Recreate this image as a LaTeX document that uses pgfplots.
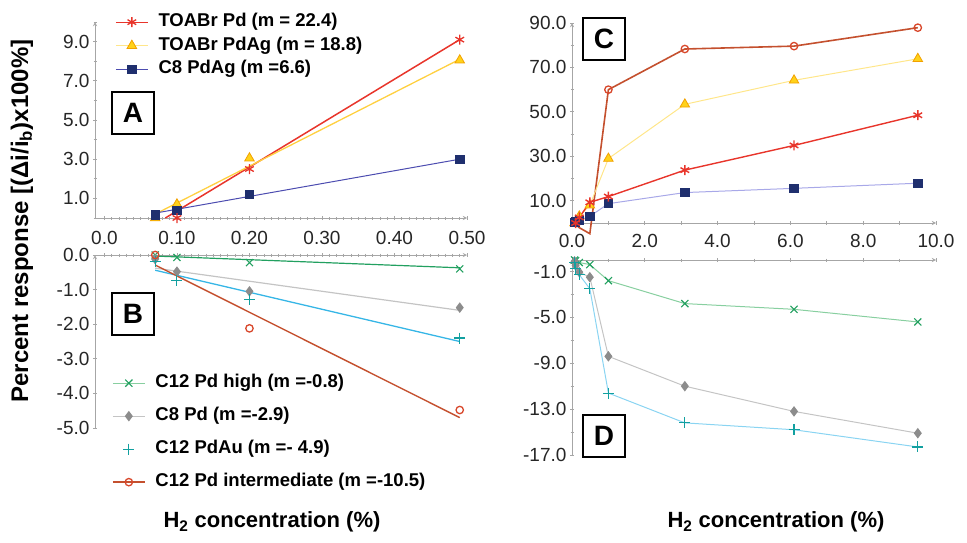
\documentclass[border=0pt]{standalone}
\usepackage{fontspec}
\setmainfont{Liberation Sans}
\usepackage{pgfplots}
\pgfplotsset{compat=1.18}
\definecolor{cred}{HTML}{E8352B}
\definecolor{cyelline}{HTML}{FFD040}
\definecolor{cyellight}{HTML}{FFE68A}
\definecolor{cyelfill}{HTML}{FFD21A}
\definecolor{cyeledge}{HTML}{F2A100}
\definecolor{cnavy}{HTML}{1F2F6E}
\definecolor{cnavyline}{HTML}{4C4CB0}
\definecolor{cnavylight}{HTML}{A8A8E8}
\definecolor{cgreen}{HTML}{22A060}
\definecolor{cgreenlight}{HTML}{88CFA0}
\definecolor{cgray}{HTML}{8C8C8C}
\definecolor{cgraylight}{HTML}{C4C4C4}
\definecolor{cteal}{HTML}{12A0A0}
\definecolor{ccyan}{HTML}{36B6E6}
\definecolor{ccyanlight}{HTML}{8AD4F2}
\definecolor{cbrown}{HTML}{C4502E}
\definecolor{corange}{HTML}{D8472B}
\definecolor{caxis}{HTML}{A6A6A6}
\pgfplotsset{
  panel/.style={
    scale only axis, anchor=south west,
    axis line style={caxis, line width=0.9pt, -},
    x axis line style={-}, y axis line style={-},
    tick style={caxis, line width=0.8pt},
    major tick length=4pt, minor tick length=3pt, tick align=outside,
    tick label style={font=\fontsize{19}{22}\selectfont, text=black!85},
    legend cell align=left,
    legend style={draw=none, fill=none, inner sep=0pt, anchor=north west,
      font=\bfseries\fontsize{18.5}{21}\selectfont,
      nodes={inner sep=0pt, text height=14pt, text depth=4.5pt},
      /tikz/every odd column/.append style={column sep=10pt}},
    legend image code/.code={\draw[mark repeat=2,mark phase=2,##1] plot coordinates {(0pt,0pt) (16pt,0pt) (32pt,0pt)};},
  },
  mA/.style={color=cred, mark=asterisk, mark size=5pt, line width=1.3pt},
  mT/.style={color=cyelline, mark=triangle*, mark size=5.5pt, line width=1pt, mark options={fill=cyelfill, draw=cyeledge, line width=0.8pt}},
  mS/.style={color=cnavyline, mark=square*, mark size=4.2pt, line width=0.9pt, mark options={fill=cnavy, draw=cnavy}},
  mX/.style={color=cgreen, mark=x, mark size=5pt, line width=1.1pt},
  mD/.style={color=cgraylight, mark=diamond*, mark size=4.5pt, line width=1pt, mark options={fill=cgray, draw=cgray}},
  mP/.style={color=cteal, mark=+, mark size=5.5pt, line width=1.1pt},
  mO/.style={color=cbrown, mark=o, mark size=3.7pt, line width=1.3pt, mark options={draw=corange}},
}
\begin{document}
\begin{tikzpicture}
\useasboundingbox (0pt,0pt) rectangle (967pt,542pt);

% ---------------- Panel A ----------------
\begin{axis}[panel, at={(95pt,324pt)}, width=372pt, height=196pt,
  xmin=-0.013, xmax=0.5, ymin=0, ymax=10,
  axis x line=bottom, axis y line=left,
  xtick={0,0.1,0.2,0.3,0.4,0.5}, xticklabels={0.0,0.10,0.20,0.30,0.40,0.50}, minor x tick num=9,
  x tick label style={yshift=-8pt},
  ytick={1,3,5,7,9}, yticklabels={1.0,3.0,5.0,7.0,9.0}, minor ytick={0,2,4,6,8,10},
  legend style={at={(0.0538,1.0474)}, row sep=5pt},
]
\addlegendimage{mA}\addlegendentry{TOABr Pd (m = 22.4)}
\addlegendimage{mT, color=cyellight}\addlegendentry{TOABr PdAg (m = 18.8)}
\addlegendimage{mS}\addlegendentry{C8 PdAg (m =6.6)}
\addplot[forget plot, cred, line width=1.5pt] coordinates {(0.084,0) (0.49,9.1)};
\addplot[forget plot, cyelline, line width=1.3pt] coordinates {(0.07,0.2) (0.49,8.1)};
\addplot[forget plot, cnavyline, line width=1pt] coordinates {(0.07,0.25) (0.49,3.0)};
\addplot[forget plot, only marks, mT] coordinates {(0.07,0.0) (0.1,0.7) (0.2,3.05) (0.49,8.05)};
\addplot[forget plot, only marks, mS] coordinates {(0.07,0.15) (0.1,0.4) (0.2,1.2) (0.49,3.0)};
\addplot[forget plot, only marks, mA] coordinates {(0.1,0.0) (0.2,2.5) (0.49,9.1)};
\end{axis}

% ---------------- Panel B ----------------
\begin{axis}[panel, at={(95pt,114pt)}, width=372pt, height=173pt,
  xmin=-0.013, xmax=0.5, ymin=-5, ymax=0,
  axis x line=top, axis y line=left,
  xtick={0,0.1,0.2,0.3,0.4,0.5}, xticklabels={}, minor x tick num=9,
  ytick={0,-1,-2,-3,-4,-5}, yticklabels={0.0,-1.0,-2.0,-3.0,-4.0,-5.0},
  legend style={at={(0.0457,0.3139)}, row sep=14.5pt},
]
\addlegendimage{mX, color=cgreenlight, mark options={draw=cgreen}}\addlegendentry{C12 Pd high (m =-0.8)}
\addlegendimage{mD}\addlegendentry{C8 Pd (m =-2.9)}
\addlegendimage{mP, only marks}\addlegendentry{C12 PdAu (m =- 4.9)}
\addlegendimage{mO}\addlegendentry{C12 Pd intermediate (m =-10.5)}
\addplot[forget plot, cgreen, line width=1.2pt] coordinates {(0.07,-0.03) (0.49,-0.37)};
\addplot[forget plot, cgraylight, line width=1.2pt] coordinates {(0.07,-0.38) (0.49,-1.6)};
\addplot[forget plot, ccyan, line width=1.3pt] coordinates {(0.07,-0.44) (0.49,-2.5)};
\addplot[forget plot, cbrown, line width=1.4pt] coordinates {(0.07,-0.29) (0.49,-4.7)};
\addplot[forget plot, only marks, mX] coordinates {(0.07,0.0) (0.1,-0.07) (0.2,-0.22) (0.49,-0.4)};
\addplot[forget plot, only marks, mD] coordinates {(0.07,-0.12) (0.1,-0.48) (0.2,-1.05) (0.49,-1.52)};
\addplot[forget plot, only marks, mP] coordinates {(0.07,-0.2) (0.1,-0.73) (0.2,-1.29) (0.49,-2.4)};
\addplot[forget plot, only marks, mO] coordinates {(0.07,0.0) (0.2,-2.12) (0.49,-4.48)};
\end{axis}

% ---------------- Panel C ----------------
\begin{axis}[panel, at={(572pt,319pt)}, width=364pt, height=200pt,
  xmin=0, xmax=10, ymin=0, ymax=90, clip=false,
  axis x line=bottom, axis y line=left,
  xtick={0,2,4,6,8,10}, xticklabels={0.0,2.0,4.0,6.0,8.0,10.0}, minor x tick num=1,
  x tick label style={yshift=-6pt},
  ytick={10,30,50,70,90}, yticklabels={10.0,30.0,50.0,70.0,90.0}, minor ytick={0,20,40,60,80},
]
\addplot[cbrown, line width=1.6pt] coordinates {(0.07,0.0) (0.1,-0.5) (0.2,-2.1) (0.49,-4.8) (1.0,60.0) (3.1,78.3) (6.1,79.6) (9.5,87.9)};
\addplot[only marks, mO] coordinates {(1.0,60.0) (3.1,78.3) (6.1,79.6) (9.5,87.9)};
\addplot[cyellight, line width=1pt] coordinates {(0.07,0.0) (0.1,0.7) (0.2,3.0) (0.49,8.0) (1.0,29.0) (3.1,53.4) (6.1,64.2) (9.5,73.9)};
\addplot[only marks, mT] coordinates {(0.07,0.0) (0.1,0.7) (0.2,3.0) (0.49,8.0) (1.0,29.0) (3.1,53.4) (6.1,64.2) (9.5,73.9)};
\addplot[cnavylight, line width=1pt] coordinates {(0.07,0.15) (0.1,0.4) (0.2,1.2) (0.49,3.0) (1.0,8.7) (3.1,13.7) (6.1,15.6) (9.5,17.9)};
\addplot[only marks, mS] coordinates {(0.07,0.15) (0.1,0.4) (0.2,1.2) (0.49,3.0) (1.0,8.7) (3.1,13.7) (6.1,15.6) (9.5,17.9)};
\addplot[mA, line width=1.4pt] coordinates {(0.1,0.0) (0.2,2.5) (0.49,9.3) (1.0,11.9) (3.1,23.8) (6.1,34.9) (9.5,48.5)};
\end{axis}

% ---------------- Panel D ----------------
\begin{axis}[panel, at={(572pt,87pt)}, width=364pt, height=195pt,
  xmin=0, xmax=10, ymin=-17, ymax=0,
  axis x line=top, axis y line=left,
  xtick={0,2,4,6,8,10}, xticklabels={}, minor x tick num=1,
  ytick={-1,-5,-9,-13,-17}, yticklabels={-1.0,-5.0,-9.0,-13.0,-17.0}, minor ytick={-3,-7,-11,-15},
]
\addplot[cgreenlight, line width=1pt] coordinates {(0.07,0.0) (0.1,-0.07) (0.2,-0.22) (0.49,-0.4) (1.0,-1.8) (3.1,-3.8) (6.1,-4.3) (9.5,-5.4)};
\addplot[only marks, mX] coordinates {(0.07,0.0) (0.1,-0.07) (0.2,-0.22) (0.49,-0.4) (1.0,-1.8) (3.1,-3.8) (6.1,-4.3) (9.5,-5.4)};
\addplot[cgraylight, line width=1pt] coordinates {(0.07,-0.12) (0.1,-0.48) (0.2,-1.05) (0.49,-1.5) (1.0,-8.4) (3.1,-11.0) (6.1,-13.2) (9.5,-15.1)};
\addplot[only marks, mD] coordinates {(0.07,-0.12) (0.1,-0.48) (0.2,-1.05) (0.49,-1.5) (1.0,-8.4) (3.1,-11.0) (6.1,-13.2) (9.5,-15.1)};
\addplot[ccyanlight, line width=1pt] coordinates {(0.07,-0.2) (0.1,-0.73) (0.2,-1.29) (0.49,-2.5) (1.0,-11.6) (3.1,-14.2) (6.1,-14.8) (9.5,-16.3)};
\addplot[only marks, mP] coordinates {(0.07,-0.2) (0.1,-0.73) (0.2,-1.29) (0.49,-2.5) (1.0,-11.6) (3.1,-14.2) (6.1,-14.8) (9.5,-16.3)};
\end{axis}

% ---------------- Labels ----------------
\tikzset{panellabel/.style={draw=black, line width=2.2pt, minimum size=42pt, inner sep=0pt, font=\bfseries\fontsize{28}{30}\selectfont}}
\node[panellabel] at (133pt,429pt) {A};
\node[panellabel] at (133pt,228pt) {B};
\node[panellabel] at (604pt,503pt) {C};
\node[panellabel] at (604pt,106pt) {D};
\node[rotate=90, font=\bfseries\fontsize{24}{27}\selectfont] at (22pt,321pt) {Percent response [(Δi/i\textsubscript{b})x100\%]};
\node[font=\bfseries\fontsize{22}{25}\selectfont] at (272pt,20pt) {H\textsubscript{2} concentration (\%)};
\node[font=\bfseries\fontsize{22}{25}\selectfont] at (776pt,20pt) {H\textsubscript{2} concentration (\%)};
\end{tikzpicture}
\end{document}
